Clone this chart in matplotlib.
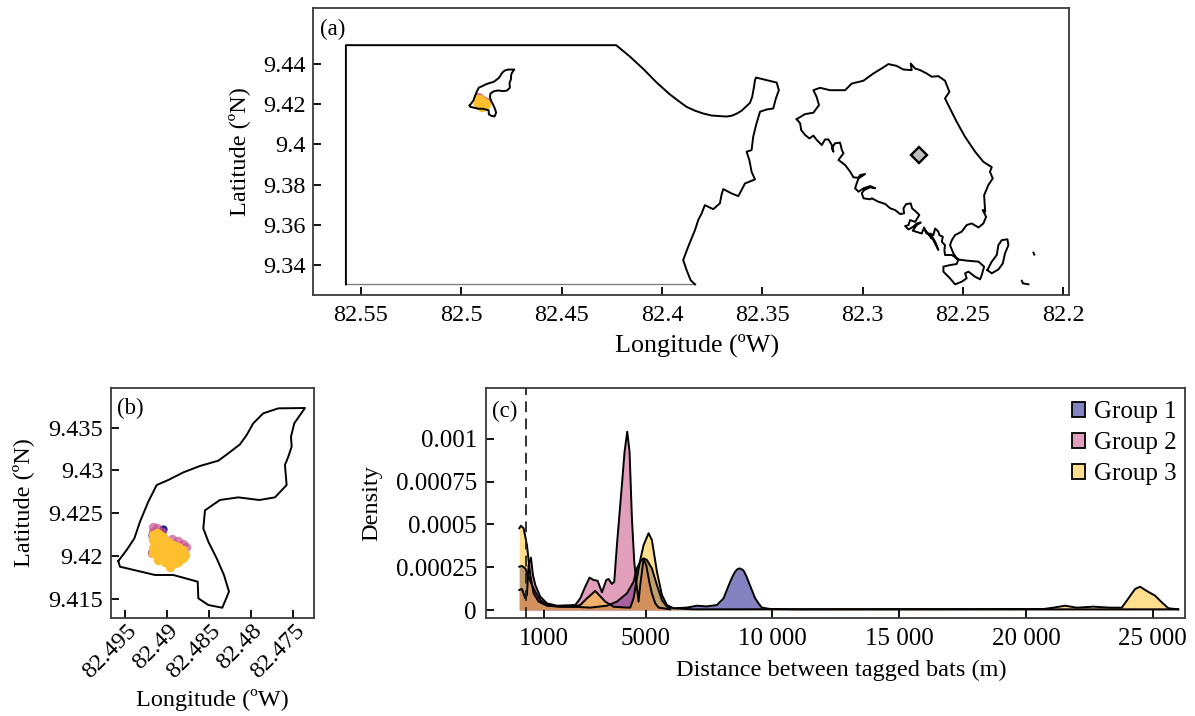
from matplotlib.patches import Patch
from matplotlib.transforms import ScaledTranslation
import matplotlib.pyplot as plt

OUTPUT_PLOT = "out.png"

FIG_W = 1195
FIG_H = 716

# Mainland outline, panel (a)
MAINLAND_LON = [
    82.5575, 82.5575, 82.4228, 82.4158, 82.4092, 82.4025, 82.3960, 82.3918, 82.3877, 82.3835,
    82.3794, 82.3752, 82.3711, 82.3677, 82.3652, 82.3628, 82.3603, 82.3578, 82.3561, 82.3550,
    82.3541, 82.3536, 82.3531, 82.3478, 82.3428, 82.3417, 82.3432, 82.3445, 82.3478, 82.3511,
    82.3531, 82.3545, 82.3553, 82.3578, 82.3564, 82.3553, 82.3536, 82.3586, 82.3619, 82.3652,
    82.3694, 82.3702, 82.3711, 82.3744, 82.3786, 82.3802, 82.3819, 82.3835, 82.3852, 82.3869,
    82.3894, 82.3877, 82.3857, 82.3835,
]
MAINLAND_LAT = [
    9.3304, 9.4494, 9.4494, 9.4436, 9.4375, 9.4307, 9.4249, 9.4217, 9.4187, 9.4168,
    9.4154, 9.4144, 9.4141, 9.4139, 9.4143, 9.4153, 9.4168, 9.4191, 9.4207, 9.4237,
    9.4287, 9.4320, 9.4333, 9.4320, 9.4308, 9.4270, 9.4229, 9.4179, 9.4174, 9.4163,
    9.4096, 9.4038, 9.3972, 9.3964, 9.3922, 9.3864, 9.3826, 9.3806, 9.3743, 9.3756,
    9.3778, 9.3753, 9.3707, 9.3678, 9.3698, 9.3657, 9.3624, 9.3574, 9.3533, 9.3491,
    9.3425, 9.3375, 9.3325, 9.3304,
]
MAP_EDGE_LON = [82.5575, 82.3835]
MAP_EDGE_LAT = [9.3304, 9.3304]

# Large island, going clockwise from its western tip
ISLAND_LON = [
    82.3328, 82.3287, 82.3245, 82.3217, 82.3229, 82.3245, 82.3212, 82.3162, 82.3087, 82.3054,
    82.2996, 82.2946, 82.2905, 82.2871, 82.2830, 82.2797, 82.2755, 82.2760, 82.2738, 82.2713,
    82.2680, 82.2655, 82.2622, 82.2589, 82.2567, 82.2589, 82.2564, 82.2531, 82.2489, 82.2439,
    82.2398, 82.2356, 82.2365, 82.2351, 82.2373, 82.2394, 82.2389, 82.2401, 82.2384, 82.2398,
    82.2422, 82.2456, 82.2481, 82.2506, 82.2539, 82.2555, 82.2564, 82.2547, 82.2527, 82.2481,
    82.2422, 82.2394, 82.2406, 82.2414, 82.2439, 82.2472, 82.2489, 82.2481, 82.2506, 82.2539,
    82.2564, 82.2597, 82.2597, 82.2564, 82.2531, 82.2522, 82.2555, 82.2572, 82.2589, 82.2592,
    82.2589, 82.2605, 82.2600, 82.2617, 82.2622, 82.2638, 82.2647, 82.2663, 82.2638, 82.2622,
    82.2647, 82.2672, 82.2655, 82.2688, 82.2680, 82.2693, 82.2705, 82.2750, 82.2730, 82.2710,
    82.2730, 82.2747, 82.2771, 82.2788, 82.2771, 82.2763, 82.2738, 82.2717, 82.2733, 82.2753,
    82.2760, 82.2783, 82.2796, 82.2793, 82.2813, 82.2838, 82.2862, 82.2887, 82.2921, 82.2954,
    82.2962, 82.2995, 82.3004, 82.2992, 82.2962, 82.2937, 82.2962, 82.2995, 82.3020, 82.3037,
    82.3029, 82.3020, 82.2987, 82.3012, 82.3020, 82.3045, 82.3062, 82.3087, 82.3120, 82.3095,
    82.3103, 82.3112, 82.3137, 82.3153, 82.3145, 82.3153, 82.3170, 82.3187, 82.3203, 82.3228,
    82.3245, 82.3265, 82.3286, 82.3306, 82.3311, 82.3328,
]
ISLAND_LAT = [
    9.4126, 9.4151, 9.4158, 9.4196, 9.4237, 9.4270, 9.4282, 9.4270, 9.4270, 9.4303,
    9.4317, 9.4353, 9.4378, 9.4400, 9.4391, 9.4373, 9.4370, 9.4403, 9.4378, 9.4370,
    9.4353, 9.4337, 9.4340, 9.4317, 9.4262, 9.4229, 9.4179, 9.4113, 9.4038, 9.3964,
    9.3914, 9.3887, 9.3864, 9.3831, 9.3798, 9.3748, 9.3665, 9.3674, 9.3640, 9.3607,
    9.3587, 9.3607, 9.3599, 9.3566, 9.3549, 9.3524, 9.3499, 9.3458, 9.3428, 9.3422,
    9.3417, 9.3392, 9.3350, 9.3329, 9.3342, 9.3367, 9.3359, 9.3334, 9.3317, 9.3304,
    9.3334, 9.3367, 9.3392, 9.3400, 9.3405, 9.3428, 9.3450, 9.3450, 9.3450, 9.3475,
    9.3499, 9.3516, 9.3541, 9.3549, 9.3566, 9.3582, 9.3549, 9.3557, 9.3516, 9.3475,
    9.3524, 9.3557, 9.3533, 9.3574, 9.3557, 9.3587, 9.3557, 9.3571, 9.3599, 9.3612,
    9.3607, 9.3591, 9.3577, 9.3594, 9.3599, 9.3624, 9.3615, 9.3649, 9.3665, 9.3682,
    9.3707, 9.3703, 9.3682, 9.3657, 9.3654, 9.3674, 9.3682, 9.3704, 9.3715, 9.3732,
    9.3727, 9.3732, 9.3757, 9.3773, 9.3787, 9.3782, 9.3793, 9.3782, 9.3765, 9.3782,
    9.3807, 9.3831, 9.3853, 9.3848, 9.3835, 9.3836, 9.3865, 9.3898, 9.3923, 9.3956,
    9.3972, 9.4009, 9.4006, 9.3981, 9.3964, 9.3997, 9.4025, 9.4025, 9.3997, 9.4022,
    9.4044, 9.4030, 9.4047, 9.4072, 9.4105, 9.4126,
]

CAY_LON = [82.2378, 82.2356, 82.2331, 82.2323, 82.2306, 82.2278, 82.2273, 82.2290, 82.2301, 82.2323, 82.2356, 82.2378]
CAY_LAT = [9.3375, 9.3417, 9.3450, 9.3499, 9.3524, 9.3528, 9.3499, 9.3458, 9.3408, 9.3378, 9.3359, 9.3375]
SPECK_A_LON = [82.2148, 82.2144]
SPECK_A_LAT = [9.3462, 9.3452]
SPECK_B_LON = [82.2206, 82.2201, 82.2173]
SPECK_B_LAT = [9.3322, 9.3309, 9.3304]

COLONY_LON = [82.2718]
COLONY_LAT = [9.3947]

# Small island that the bats forage on, drawn in panels (a) and (b)
FORAGE_LON = [
    82.49580, 82.49481, 82.49389, 82.49322, 82.49223, 82.49123, 82.48985, 82.48806, 82.48608, 82.48389,
    82.48270, 82.48131, 82.48052, 82.47973, 82.47854, 82.47675, 82.47358, 82.47457, 82.47485, 82.47524,
    82.47516, 82.47556, 82.47596, 82.47576, 82.47715, 82.47901, 82.48151, 82.48370, 82.48548, 82.48568,
    82.48508, 82.48409, 82.48322, 82.48262, 82.48342, 82.48508, 82.48627, 82.48635, 82.48925, 82.49143,
    82.49560, 82.49580,
]
FORAGE_LAT = [
    9.41940, 9.42069, 9.42205, 9.42400, 9.42634, 9.42829, 9.42888, 9.42977, 9.43052, 9.43114,
    9.43200, 9.43305, 9.43414, 9.43551, 9.43668, 9.43726, 9.43730, 9.43590, 9.43551, 9.43395,
    9.43278, 9.43161, 9.43063, 9.42829, 9.42685, 9.42654, 9.42685, 9.42654, 9.42533, 9.42322,
    9.42166, 9.41972, 9.41777, 9.41582, 9.41394, 9.41426, 9.41504, 9.41699, 9.41777, 9.41777,
    9.41874, 9.41940,
]

# GPS fixes by group
GROUP1_LON = [82.49044, 82.49183, 82.49183]
GROUP1_LAT = [9.42315, 9.42244, 9.42049]
GROUP2_LON = [82.49163, 82.49115, 82.49171, 82.49064, 82.48945, 82.48866, 82.48806, 82.48774, 82.49183, 82.49163]
GROUP2_LAT = [9.42342, 9.42330, 9.42283, 9.42283, 9.42198, 9.42174, 9.42135, 9.42108, 9.42030, 9.42205]
GROUP3_LON = [
    82.49163, 82.49123, 82.49084, 82.49143, 82.49064, 82.48985, 82.49163, 82.49084, 82.49004, 82.48925,
    82.48866, 82.48806, 82.48786, 82.49163, 82.49104, 82.49024, 82.48945, 82.48866, 82.48806, 82.49104,
    82.49024, 82.48945, 82.48866, 82.48965, 82.48905, 82.49163, 82.49044, 82.48965, 82.48885, 82.48985,
    82.49064, 82.48905, 82.49123, 82.49104, 82.49044, 82.48846,
]
GROUP3_LAT = [
    9.42244, 9.42264, 9.42244, 9.42166, 9.42166, 9.42166, 9.42088, 9.42088, 9.42088, 9.42127,
    9.42108, 9.42069, 9.42011, 9.42030, 9.41991, 9.42011, 9.42030, 9.42011, 9.41972, 9.41952,
    9.41933, 9.41933, 9.41933, 9.41874, 9.41913, 9.42186, 9.42127, 9.42088, 9.42049, 9.41972,
    9.42049, 9.41991, 9.42127, 9.42205, 9.42225, 9.41972,
]

# Distance densities, panel (c)
DIST1 = [
    14, 119, 250, 382, 513, 645, 842, 1105, 1499, 2156, 2814, 3471, 3865, 4259, 4522, 4654, 4785, 4917,
    5048, 5245, 5443, 5640, 5837, 6100, 6625, 7020, 7414, 7808, 8071, 8202, 8334, 8439, 8531, 8610, 8702,
    8794, 8860, 8965, 9057, 9188, 9320, 9451, 9583, 9911, 11000, 26000,
]
DENS1 = [
    2.53e-4, 2.57e-4, 2.43e-4, 1.95e-4, 1.46e-4, 1.07e-4, 5.8e-5, 2.9e-5, 2.1e-5, 1.9e-5, 1.4e-5, 2.5e-5,
    4.9e-5, 9.7e-5, 1.65e-4, 2.43e-4, 2.82e-4, 3.02e-4, 2.92e-4, 2.43e-4, 1.46e-4, 5.8e-5, 1.9e-5, 1e-5,
    1.4e-5, 2.5e-5, 2.1e-5, 2.9e-5, 6.8e-5, 1.17e-4, 1.65e-4, 2.0e-4, 2.24e-4, 2.37e-4, 2.43e-4, 2.37e-4,
    2.3e-4, 2.0e-4, 1.65e-4, 1.17e-4, 6.8e-5, 3.9e-5, 1.4e-5, 6e-6, 4e-6, 4e-6,
]
DIST2 = [
    14, 119, 250, 316, 382, 474, 553, 645, 842, 1105, 1499, 2222, 2419, 2616, 2787, 2945, 3103, 3274, 3444,
    3536, 3668, 3760, 3865, 4062, 4167, 4272, 4364, 4457, 4549, 4627, 4719, 4785, 4917, 5022, 5140, 5245,
    5377, 5508, 5968,
]
DENS2 = [
    1.17e-4, 1.23e-4, 6.8e-5, 8.8e-5, 2.63e-4, 3.06e-4, 2.04e-4, 1.46e-4, 7.8e-5, 3.9e-5, 2.5e-5, 2.9e-5,
    6.8e-5, 1.36e-4, 1.89e-4, 1.75e-4, 1.71e-4, 1.03e-4, 1.75e-4, 1.81e-4, 1.52e-4, 1.65e-4, 3.79e-4,
    7.3e-4, 9.24e-4, 1.041e-3, 9.24e-4, 5.35e-4, 2.82e-4, 1.65e-4, 4.9e-5, 1.46e-4, 2.98e-4, 2.63e-4,
    1.65e-4, 9.7e-5, 3.9e-5, 1.4e-5, 4e-6,
]
DIST3 = [
    14, 80, 185, 316, 448, 579, 776, 1105, 1631, 2156, 2419, 2682, 3011, 3208, 3405, 3734, 4259, 4390, 4522,
    4654, 4785, 4917, 5114, 5245, 5443, 5640, 5837, 6100, 6888, 20690, 21084, 21545, 22005, 22662, 23319,
    23779, 24042, 24305, 24502, 24765, 25093, 25356, 25619, 26013,
]
DENS3 = [
    4.77e-4, 4.92e-4, 4.77e-4, 3.79e-4, 2.04e-4, 9.7e-5, 4.9e-5, 2.5e-5, 1.9e-5, 1.9e-5, 2.9e-5, 6.8e-5,
    1.11e-4, 8e-5, 4.9e-5, 1.9e-5, 1.4e-5, 1.4e-5, 6.8e-5, 1.85e-4, 2.92e-4, 3.79e-4, 4.48e-4, 4.09e-4,
    2.24e-4, 8.8e-5, 2.9e-5, 1e-5, 4e-6, 5.8e-6, 1.36e-5, 2.5e-5, 1.36e-5, 1.95e-5, 1.36e-5, 1.36e-5,
    6.8e-5, 1.226e-4, 1.362e-4, 1.11e-4, 8.4e-5, 4.5e-5, 1e-5, 4e-6,
]
GROUP_NAMES = ["Group 1", "Group 2", "Group 3"]
THRESHOLD_M = 290

MAP_LON_TICKS = [82.55, 82.5, 82.45, 82.4, 82.35, 82.3, 82.25, 82.2]
MAP_LON_LABELS = ["82.55", "82.5", "82.45", "82.4", "82.35", "82.3", "82.25", "82.2"]
MAP_LAT_TICKS = [9.44, 9.42, 9.4, 9.38, 9.36, 9.34]
MAP_LAT_LABELS = ["9.44", "9.42", "9.4", "9.38", "9.36", "9.34"]

ZOOM_LON_TICKS = [82.495, 82.49, 82.485, 82.48, 82.475]
ZOOM_LON_LABELS = ["82.495", "82.49", "82.485", "82.48", "82.475"]
ZOOM_LAT_TICKS = [9.435, 9.43, 9.425, 9.42, 9.415]
ZOOM_LAT_LABELS = ["9.435", "9.43", "9.425", "9.42", "9.415"]

DIST_TICKS = [1000, 5000, 10000, 15000, 20000, 25000]
DIST_LABELS = ["1000", "5000", "10 000", "15 000", "20 000", "25 000"]
DENS_TICKS = [0, 0.00025, 0.0005, 0.00075, 0.001]
DENS_LABELS = ["0", "0.00025", "0.0005", "0.00075", "0.001"]

FILL_COLORS = ["#0b0785", "#c74179", "#ffbf1d"]
POINT_COLORS = ["#2a2390", "#c8508c", "#fdbf2d"]

LABEL_SIZE = 17.5
PANEL_SIZE = 16.5
LINE_WIDTH = 1.4
SPINE_COLOR = "#3a3a3a"


def make_axes(fig, left, right, top, bottom, tick_size):
    ax = fig.add_axes(
        [left / FIG_W, 1 - bottom / FIG_H, (right - left) / FIG_W, (bottom - top) / FIG_H]
    )
    for spine in ax.spines.values():
        spine.set_color(SPINE_COLOR)
        spine.set_linewidth(1.3)
    ax.tick_params(direction="in", length=5.5, width=1.3, color="black", labelsize=tick_size)
    return ax


def draw_points(ax):
    ax.scatter(GROUP1_LON, GROUP1_LAT, s=36, color=POINT_COLORS[0], linewidths=0, zorder=3)
    ax.scatter(GROUP2_LON, GROUP2_LAT, s=46, color=POINT_COLORS[1], alpha=0.7, linewidths=0, zorder=4)
    ax.scatter(GROUP3_LON, GROUP3_LAT, s=46, color=POINT_COLORS[2], linewidths=0, zorder=5)


def draw_map(ax):
    ax.plot(MAP_EDGE_LON, MAP_EDGE_LAT, color="#808080", linewidth=1.0)
    ax.plot(MAINLAND_LON, MAINLAND_LAT, color="black", linewidth=LINE_WIDTH)
    ax.plot(ISLAND_LON, ISLAND_LAT, color="black", linewidth=LINE_WIDTH)
    ax.plot(CAY_LON, CAY_LAT, color="black", linewidth=LINE_WIDTH)
    ax.plot(SPECK_A_LON, SPECK_A_LAT, color="black", linewidth=LINE_WIDTH)
    ax.plot(SPECK_B_LON, SPECK_B_LAT, color="black", linewidth=LINE_WIDTH)
    draw_points(ax)
    ax.plot(FORAGE_LON, FORAGE_LAT, color="black", linewidth=LINE_WIDTH, zorder=6)
    ax.plot(COLONY_LON, COLONY_LAT, marker="D", markersize=8, markerfacecolor="#bdbdbd",
            markeredgecolor="black", markeredgewidth=1.7, linestyle="none")

    ax.set_xlim(82.5739, 82.1971)
    ax.set_ylim(9.3251, 9.4679)
    ax.set_xticks(MAP_LON_TICKS, MAP_LON_LABELS)
    ax.set_yticks(MAP_LAT_TICKS, MAP_LAT_LABELS)
    ax.tick_params(axis="x", pad=7)
    ax.tick_params(axis="y", pad=5)
    ax.set_xlabel("Longitude (ºW)", fontsize=18.8, labelpad=6, x=0.508)
    ax.set_ylabel("Latitude (ºN)", fontsize=LABEL_SIZE, labelpad=9.5)
    ax.text(0.009, 0.925, "(a)", transform=ax.transAxes, fontsize=PANEL_SIZE, va="center")


def draw_zoom(fig, ax):
    draw_points(ax)
    ax.plot(FORAGE_LON, FORAGE_LAT, color="black", linewidth=LINE_WIDTH, zorder=6)

    ax.set_xlim(82.49667, 82.4725)
    ax.set_ylim(9.41274, 9.43964)
    ax.set_xticks(ZOOM_LON_TICKS, ZOOM_LON_LABELS)
    ax.set_yticks(ZOOM_LAT_TICKS, ZOOM_LAT_LABELS)
    ax.tick_params(axis="y", pad=5.5)
    shift = ScaledTranslation(0.6 / 72, 2 / 72, fig.dpi_scale_trans)
    for label in ax.get_xticklabels():
        label.set_rotation(45)
        label.set_ha("right")
        label.set_rotation_mode("anchor")
        label.set_transform(label.get_transform() + shift)
    ax.set_xlabel("Longitude (ºW)", fontsize=LABEL_SIZE, labelpad=5)
    ax.set_ylabel("Latitude (ºN)", fontsize=LABEL_SIZE, labelpad=10.5)
    ax.text(0.03, 0.909, "(b)", transform=ax.transAxes, fontsize=PANEL_SIZE, va="center")


def draw_density(ax):
    curves = [(DIST1, DENS1), (DIST2, DENS2), (DIST3, DENS3)]
    handles = []
    for (dist, dens), color, name in zip(curves, FILL_COLORS, GROUP_NAMES):
        ax.fill_between(dist, dens, 0, color=color, alpha=0.5, linewidth=0)
        ax.plot(dist, dens, color="black", linewidth=LINE_WIDTH)
        handles.append(Patch(facecolor=color + "80", edgecolor="black", linewidth=1.3, label=name))

    ax.axvline(THRESHOLD_M, color="#222222", linewidth=1.3, dashes=(6, 3.5), zorder=5)

    ax.set_xlim(-1299, 26274)
    ax.set_ylim(-4.67e-5, 0.001296)
    ax.set_xticks(DIST_TICKS, DIST_LABELS)
    ax.set_yticks(DENS_TICKS, DENS_LABELS)
    ax.tick_params(axis="x", pad=7)
    ax.tick_params(axis="y", pad=6.5)
    ax.set_xlabel("Distance between tagged bats (m)", fontsize=LABEL_SIZE, labelpad=7, x=0.508)
    ax.set_ylabel("Density", fontsize=LABEL_SIZE, labelpad=10)
    ax.text(0.008, 0.9, "(c)", transform=ax.transAxes, fontsize=PANEL_SIZE, va="center")
    ax.legend(
        handles=handles,
        loc="upper right",
        bbox_to_anchor=(1.0, 0.978),
        frameon=False,
        fontsize=18,
        handlelength=0.52,
        handleheight=0.55,
        handletextpad=0.38,
        labelspacing=0.36,
        borderaxespad=0.12,
        borderpad=0.2,
    )


def main():
    plt.rcParams["font.family"] = ["Liberation Serif", "DejaVu Serif"]

    fig = plt.figure(figsize=(FIG_W / 100, FIG_H / 100), dpi=100)

    draw_map(make_axes(fig, 313, 1069, 8, 295, 17.5))
    draw_zoom(fig, make_axes(fig, 111, 314, 388, 618, 17.5))
    draw_density(make_axes(fig, 486, 1185, 388, 618, 18))

    fig.savefig(OUTPUT_PLOT, dpi=100)
    plt.close(fig)


if __name__ == "__main__":
    main()
